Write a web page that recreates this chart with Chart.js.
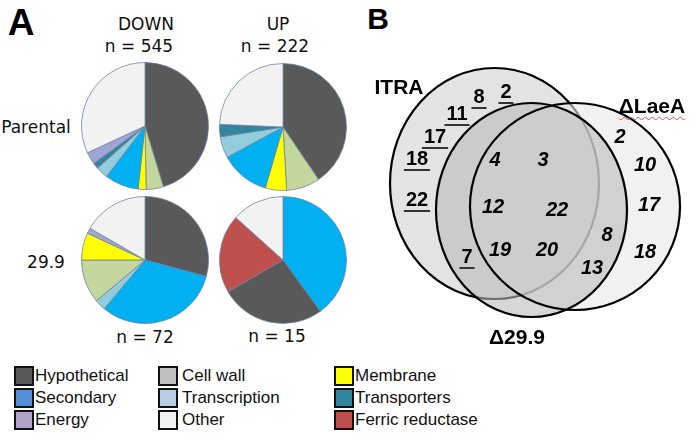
<!DOCTYPE html>
<html>
<head>
<meta charset="utf-8">
<script src="https://cdn.jsdelivr.net/npm/chart.js@4.4.1/dist/chart.umd.min.js"></script>
<style>
  body { margin: 0; background: #fff; width: 693px; height: 435px; position: relative; overflow: hidden; font-family: "DejaVu Sans", sans-serif; color: #111; }
  .t { position: absolute; transform: translate(-50%, -50%); white-space: nowrap; line-height: 1; }
  .lbl { font-size: 17px; }
  .bold { font-family: "Liberation Sans", Arial, sans-serif; font-weight: bold; color: #000; }
  canvas { position: absolute; }
  .leg { position: absolute; font-family: "Liberation Sans", Arial, sans-serif; font-size: 17px; line-height: 1; white-space: nowrap; }
  .leg i { position: absolute; left: 0; top: -1px; width: 16px; height: 16px; border: 2px solid #111; }
  .leg span { position: absolute; top: 0; }
</style>
</head>
<body>
<div class="t bold" style="left:21px;top:22px;font-size:37px">A</div>
<div class="t bold" style="left:378px;top:19px;font-size:30px">B</div>

<div class="t lbl" style="left:146px;top:24px">DOWN</div>
<div class="t lbl" style="left:139px;top:46px">n = 545</div>
<div class="t lbl" style="left:278px;top:24px">UP</div>
<div class="t lbl" style="left:275px;top:46px">n = 222</div>
<div class="t lbl" style="left:36px;top:127px">Parental</div>
<div class="t lbl" style="left:46px;top:262px">29.9</div>
<div class="t lbl" style="left:145px;top:337px">n = 72</div>
<div class="t lbl" style="left:277px;top:336px">n = 15</div>

<canvas id="p1" width="128" height="128" style="left:81px;top:62px"></canvas>
<canvas id="p2" width="128" height="128" style="left:219px;top:63px"></canvas>
<canvas id="p3" width="128" height="128" style="left:81px;top:196px"></canvas>
<canvas id="p4" width="128" height="128" style="left:219px;top:196px"></canvas>

<canvas id="venn" width="353" height="360" style="left:340px;top:0px"></canvas>
<div class="t bold" style="left:399px;top:86px;font-size:21px">ITRA</div>
<div class="t bold" style="left:652px;top:105px;font-size:21px;text-decoration:underline wavy #e05050;text-decoration-thickness:1px;text-underline-offset:3px">ΔLaeA</div>
<div class="t bold" style="left:517px;top:336px;font-size:21px">Δ29.9</div>

<div id="legend"></div>

<script>
// pie slices, clockwise from 12 o'clock
const parentalDownLabels = ["Hypothetical", "Cell wall", "Membrane", "Secondary", "Transcription", "Transporters", "Energy", "Other"];
const parentalDownValues = [247, 24, 11, 47, 17, 8, 17, 174];
const parentalUpLabels = ["Hypothetical", "Cell wall", "Membrane", "Secondary", "Transcription", "Transporters", "Other"];
const parentalUpValues = [90, 19, 12, 28, 12, 7, 54];
const mutantDownLabels = ["Hypothetical", "Secondary", "Transcription", "Cell wall", "Membrane", "Energy", "Other"];
const mutantDownValues = [21, 23, 2, 8, 5, 1, 12];
const mutantUpLabels = ["Secondary", "Hypothetical", "Ferric reductase", "Other"];
const mutantUpValues = [6, 4, 3, 2];

// legend entries
const legendLabels = ["Hypothetical", "Secondary", "Energy", "Cell wall", "Transcription", "Other", "Membrane", "Transporters", "Ferric reductase"];

// venn counts
const itraOnlyCounts = [2, 8, 11, 17, 18, 22, 7];
const sharedCounts = [4, 3, 12, 22, 19, 20, 8, 13];
const laeaOnlyCounts = [2, 10, 17, 18];

const pieColors = {
  "Hypothetical": "#595959", "Cell wall": "#c3d69b", "Membrane": "#ffff00",
  "Secondary": "#00b0f0", "Transcription": "#93cddd", "Transporters": "#31859c",
  "Energy": "#a0a5d6", "Other": "#f2f2f2", "Ferric reductase": "#c0504d"
};
const legendColors = {
  "Hypothetical": "#595959", "Secondary": "#558ed5", "Energy": "#b3a2c7",
  "Cell wall": "#bfbfbf", "Transcription": "#b9cde5", "Other": "#f2f2f2",
  "Membrane": "#ffff00", "Transporters": "#31859c", "Ferric reductase": "#c0504d"
};

function makePie(id, labels, values) {
  new Chart(document.getElementById(id), {
    type: "pie",
    data: {
      labels: labels,
      datasets: [{
        data: values,
        backgroundColor: labels.map(l => pieColors[l]),
        borderColor: "rgba(110,128,160,0.75)",
        borderWidth: 1
      }]
    },
    options: {
      responsive: false,
      animation: false,
      layout: { padding: 0 },
      plugins: { legend: { display: false }, tooltip: { enabled: false } }
    }
  });
}
makePie("p1", parentalDownLabels, parentalDownValues);
makePie("p2", parentalUpLabels, parentalUpValues);
makePie("p3", mutantDownLabels, mutantDownValues);
makePie("p4", mutantUpLabels, mutantUpValues);

// legend, 3 columns
const legCols = [14, 158, 334];
const legRows = [367, 389, 411];
const legEl = document.getElementById("legend");
legendLabels.forEach((name, i) => {
  const d = document.createElement("div");
  d.className = "leg";
  d.style.left = legCols[Math.floor(i / 3)] + "px";
  d.style.top = legRows[i % 3] + "px";
  d.innerHTML = '<i style="background:' + legendColors[name] + '"></i><span style="left:' + (i >= 3 && i < 6 ? 24 : 21) + 'px">' + name + '</span>';
  legEl.appendChild(d);
});

// venn layout (page coordinates)
const vennSets = [
  { name: "ITRA", cx: 494.5, cy: 183.5, rx: 104.5, ry: 115.5, fill: "#e3e3e3", stroke: "#000" },
  { name: "LaeA", cx: 575, cy: 206.5, rx: 105, ry: 103.5, fill: "rgba(232,232,232,0.6)", stroke: "#000" },
  { name: "29.9", cx: 531.5, cy: 210, rx: 95.5, ry: 107, fill: "rgba(186,186,186,0.58)", stroke: "#000" }
];
const itraOnlyPos = [[506, 92], [479, 97], [457, 114], [435, 137], [417, 159], [417, 200], [467, 257]];
const sharedPos = [[495, 160], [543, 160], [493, 207], [557, 210], [500, 250], [547, 250], [607, 235], [592, 268]];
const laeaOnlyPos = [[620, 137], [645, 165], [649, 205], [645, 252]];

const vennPoints = [];
itraOnlyCounts.forEach((v, i) => vennPoints.push({ x: itraOnlyPos[i][0], y: itraOnlyPos[i][1], v: v, under: true }));
sharedCounts.forEach((v, i) => vennPoints.push({ x: sharedPos[i][0], y: sharedPos[i][1], v: v, under: false }));
laeaOnlyCounts.forEach((v, i) => vennPoints.push({ x: laeaOnlyPos[i][0], y: laeaOnlyPos[i][1], v: v, under: false }));

const vennPlugin = {
  id: "venn",
  beforeDatasetsDraw(chart) {
    const ctx = chart.ctx, xs = chart.scales.x, ys = chart.scales.y;
    const ell = s => {
      ctx.beginPath();
      ctx.ellipse(xs.getPixelForValue(s.cx), ys.getPixelForValue(s.cy),
        Math.abs(xs.getPixelForValue(s.cx + s.rx) - xs.getPixelForValue(s.cx)),
        Math.abs(ys.getPixelForValue(s.cy + s.ry) - ys.getPixelForValue(s.cy)), 0, 0, Math.PI * 2);
    };
    ctx.save();
    ctx.lineWidth = 2.2;
    // ITRA first, its outline gets covered by the others
    ell(vennSets[0]); ctx.fillStyle = vennSets[0].fill; ctx.fill(); ctx.strokeStyle = vennSets[0].stroke; ctx.stroke();
    ell(vennSets[1]); ctx.fillStyle = vennSets[1].fill; ctx.fill();
    ell(vennSets[2]); ctx.fillStyle = vennSets[2].fill; ctx.fill();
    ell(vennSets[1]); ctx.strokeStyle = vennSets[1].stroke; ctx.stroke();
    ell(vennSets[2]); ctx.strokeStyle = vennSets[2].stroke; ctx.stroke();
    ctx.restore();
  },
  afterDatasetsDraw(chart) {
    const ctx = chart.ctx, meta = chart.getDatasetMeta(0);
    ctx.save();
    ctx.textAlign = "center";
    ctx.textBaseline = "middle";
    ctx.fillStyle = "#000";
    meta.data.forEach((pt, i) => {
      const p = vennPoints[i];
      ctx.font = (p.under ? "bold " : "italic bold ") + "20px 'Liberation Sans', Arial, sans-serif";
      ctx.fillText(String(p.v), pt.x, pt.y);
      if (p.under) {
        const w = ctx.measureText(String(p.v)).width;
        ctx.fillStyle = "#333";
        ctx.fillRect(pt.x - w / 2 - 2, pt.y + 10, w + 4, 2);
        ctx.fillStyle = "#000";
      }
    });
    ctx.restore();
  }
};

new Chart(document.getElementById("venn"), {
  type: "scatter",
  data: { datasets: [{ data: vennPoints, pointRadius: 0 }] },
  options: {
    responsive: false,
    animation: false,
    layout: { padding: 0 },
    scales: {
      x: { type: "linear", min: 340, max: 693, display: false },
      y: { type: "linear", min: 0, max: 360, reverse: true, display: false }
    },
    plugins: { legend: { display: false }, tooltip: { enabled: false } }
  },
  plugins: [vennPlugin]
});
</script>
</body>
</html>
